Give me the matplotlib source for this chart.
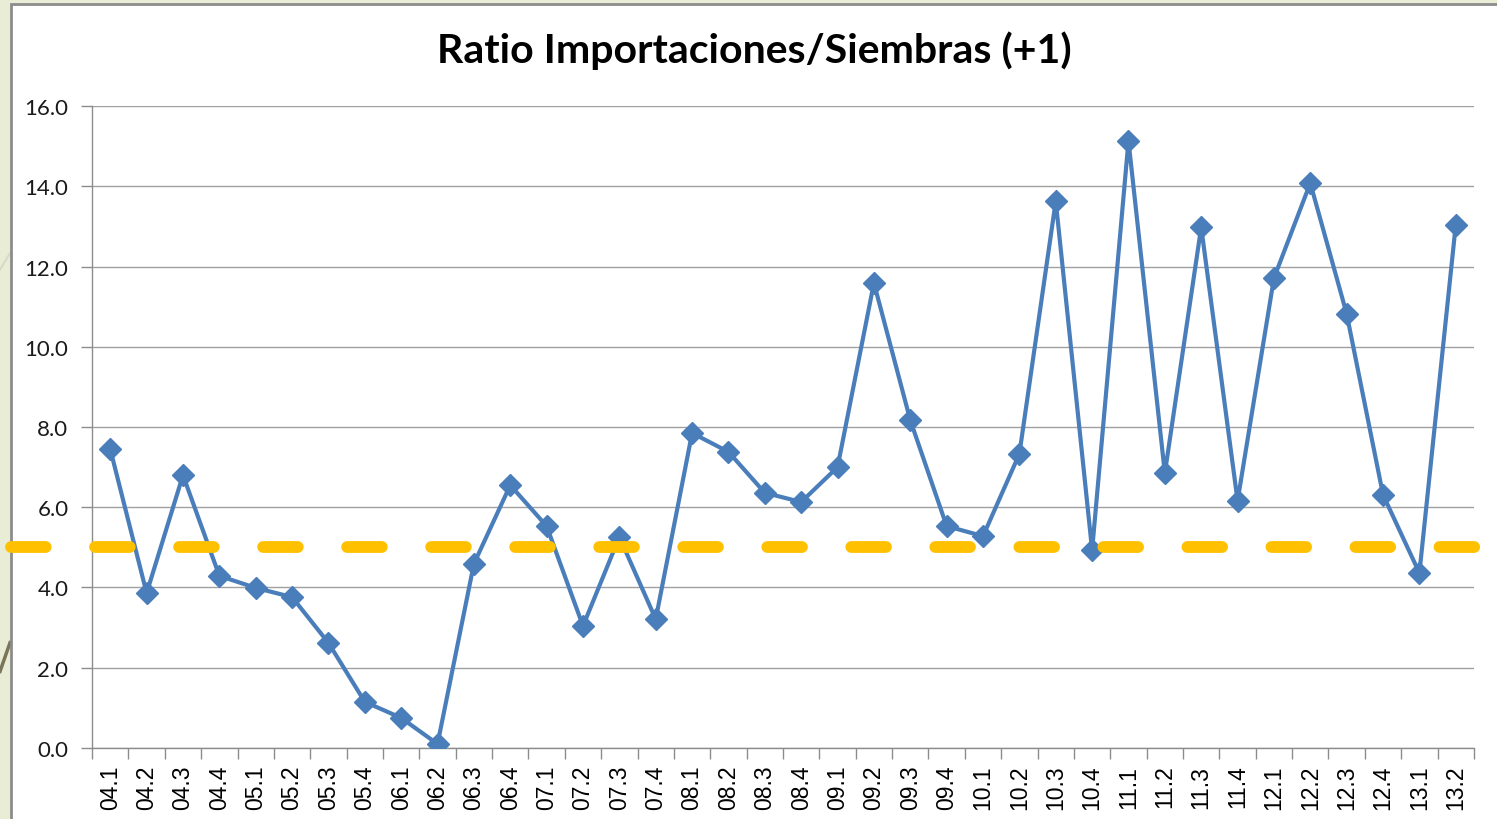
import matplotlib
matplotlib.use('Agg')
import matplotlib.pyplot as plt
from matplotlib.lines import Line2D
from matplotlib.patches import Rectangle

# quarters (year.quarter)
quarters = ['04.1', '04.2', '04.3', '04.4', '05.1', '05.2', '05.3', '05.4',
            '06.1', '06.2', '06.3', '06.4', '07.1', '07.2', '07.3', '07.4',
            '08.1', '08.2', '08.3', '08.4', '09.1', '09.2', '09.3', '09.4',
            '10.1', '10.2', '10.3', '10.4', '11.1', '11.2', '11.3', '11.4',
            '12.1', '12.2', '12.3', '12.4', '13.1', '13.2']
ratio = [7.45, 3.86, 6.80, 4.29, 3.99, 3.76, 2.62, 1.15,
         0.75, 0.10, 4.59, 6.55, 5.53, 3.04, 5.26, 3.21,
         7.85, 7.38, 6.36, 6.13, 7.00, 11.59, 8.17, 5.53,
         5.28, 7.33, 13.63, 4.93, 15.13, 6.85, 12.98, 6.16,
         11.71, 14.08, 10.82, 6.31, 4.36, 13.04]
threshold = 5.0
yticks = [0, 2, 4, 6, 8, 10, 12, 14, 16]

plt.rcParams['lines.scale_dashes'] = False

fig = plt.figure(figsize=(14.97, 8.2), dpi=100)
fig.patch.set_facecolor('#E9EDD6')

# chart frame (slide background + gray border)
fig.patches.append(Rectangle((0.0075, -0.01), 1.0, 1.004, transform=fig.transFigure,
                             facecolor='white', edgecolor='#8C8C8C', linewidth=2,
                             zorder=-10))
# decoration lines from the slide
fig.lines.append(Line2D([0.0, 0.0067], [0.67, 0.69], transform=fig.transFigure,
                        color='#D9D9C8', linewidth=1.5, zorder=-20))
fig.lines.append(Line2D([0.0, 0.0067], [0.18, 0.215], transform=fig.transFigure,
                        color='#7A7458', linewidth=2.5, zorder=-20))

ax = fig.add_axes([0.0615, 0.0866, 0.9231, 0.7829])
ax.set_facecolor('white')

x = list(range(len(quarters)))
ax.plot(x, ratio, color='#4A7EBB', linewidth=3, marker='D', markersize=11,
        markerfacecolor='#4A7EBB', markeredgecolor='#4A7EBB', zorder=4)

ax.axhline(threshold, xmin=-0.0586, xmax=1.003, color='#FFC000', linewidth=8.5,
           dashes=(25, 35.5), dash_capstyle='round', clip_on=False, zorder=5)

ax.set_xlim(-0.5, len(quarters) - 0.5)
ax.set_ylim(0, 16)
ax.set_yticks(yticks)
ax.set_yticklabels([f'{v:.1f}' for v in yticks], fontfamily='Lato', fontsize=16,
                   color='#1A1A1A')
ax.set_xticks(x)
ax.set_xticklabels(quarters, rotation=90, fontfamily='Liberation Sans',
                   fontsize=16.5, color='black')
ax.set_xticks([i - 0.5 for i in range(len(quarters) + 1)], minor=True)
ax.tick_params(axis='x', which='major', length=0, pad=12)
ax.tick_params(axis='x', which='minor', length=8, width=1, color='#8C8C8C',
               direction='out')
ax.tick_params(axis='y', length=8, width=1, color='#8C8C8C', direction='out', pad=9)

ax.grid(axis='y', color='#A0A0A0', linewidth=1)
ax.set_axisbelow(True)
for side in ['top', 'right']:
    ax.spines[side].set_visible(False)
for side in ['left', 'bottom']:
    ax.spines[side].set_color('#8C8C8C')
    ax.spines[side].set_linewidth(1)

fig.text(0.504, 0.938, 'Ratio Importaciones/Siembras (+1)', ha='center',
         va='center', fontfamily='Lato', fontweight='bold', fontsize=29.5)

fig.savefig('out.png', dpi=100, facecolor=fig.get_facecolor())
